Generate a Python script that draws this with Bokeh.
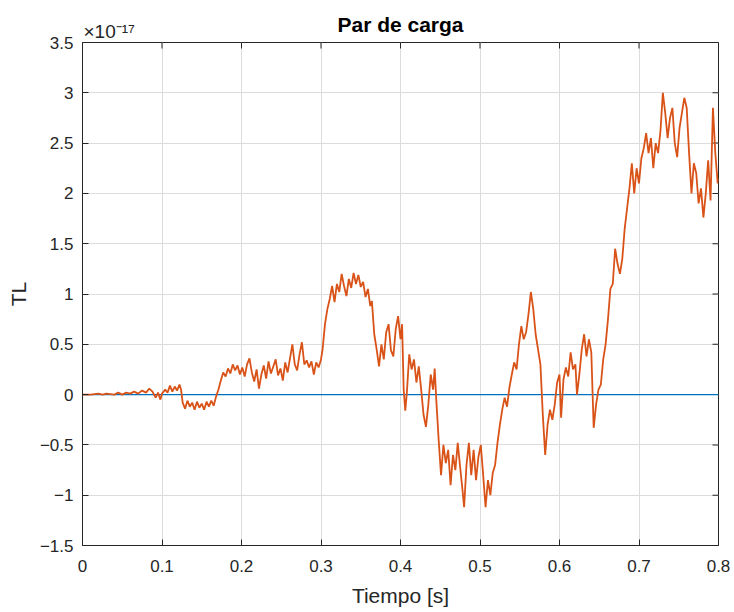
from bokeh.plotting import figure
from bokeh.models import Title, Range1d, FixedTicker
from bokeh.embed import file_html
from bokeh.resources import INLINE

# Time [s]
t = [0.000, 0.010, 0.020, 0.025, 0.030, 0.040, 0.045, 0.050, 0.055, 0.060,
     0.065, 0.070, 0.075, 0.080, 0.084, 0.088, 0.092, 0.095, 0.098, 0.100,
     0.104, 0.107, 0.110, 0.113, 0.116, 0.119, 0.122, 0.124, 0.126, 0.129,
     0.132, 0.135, 0.138, 0.141, 0.144, 0.147, 0.150, 0.153, 0.156, 0.159,
     0.162, 0.165, 0.168, 0.171, 0.174, 0.177, 0.180, 0.183, 0.186, 0.189,
     0.192, 0.195, 0.198, 0.201, 0.204, 0.207, 0.210, 0.213, 0.216, 0.219,
     0.222, 0.225, 0.228, 0.231, 0.234, 0.237, 0.240, 0.243, 0.246, 0.249,
     0.252, 0.255, 0.258, 0.261, 0.264, 0.267, 0.270, 0.273, 0.276, 0.279,
     0.282, 0.285, 0.288, 0.291, 0.294, 0.297, 0.300, 0.302, 0.305, 0.308,
     0.311, 0.314, 0.317, 0.320, 0.323, 0.326, 0.329, 0.332, 0.335, 0.338,
     0.341, 0.344, 0.347, 0.350, 0.353, 0.356, 0.359, 0.362, 0.364, 0.367,
     0.370, 0.373, 0.376, 0.379, 0.382, 0.385, 0.388, 0.391, 0.394, 0.397,
     0.400, 0.402, 0.404, 0.406, 0.408, 0.411, 0.414, 0.417, 0.420, 0.423,
     0.426, 0.429, 0.432, 0.435, 0.438, 0.441, 0.443, 0.445, 0.448, 0.451,
     0.454, 0.457, 0.460, 0.463, 0.466, 0.469, 0.472, 0.475, 0.478, 0.480,
     0.483, 0.486, 0.489, 0.492, 0.495, 0.498, 0.501, 0.504, 0.507, 0.510,
     0.513, 0.516, 0.519, 0.522, 0.525, 0.528, 0.531, 0.534, 0.537, 0.540,
     0.543, 0.546, 0.549, 0.552, 0.555, 0.558, 0.561, 0.564, 0.567, 0.570,
     0.573, 0.576, 0.579, 0.582, 0.585, 0.588, 0.591, 0.594, 0.597, 0.600,
     0.602, 0.605, 0.608, 0.611, 0.614, 0.617, 0.620, 0.622, 0.625, 0.628,
     0.631, 0.634, 0.637, 0.640, 0.643, 0.646, 0.649, 0.652, 0.655, 0.658,
     0.661, 0.664, 0.667, 0.670, 0.673, 0.676, 0.679, 0.682, 0.685, 0.688,
     0.691, 0.694, 0.697, 0.700, 0.703, 0.706, 0.709, 0.712, 0.715, 0.718,
     0.721, 0.724, 0.727, 0.730, 0.733, 0.736, 0.739, 0.742, 0.745, 0.748,
     0.751, 0.754, 0.757, 0.760, 0.763, 0.766, 0.769, 0.772, 0.775, 0.778,
     0.781, 0.784, 0.787, 0.790, 0.793, 0.796, 0.799, 0.800]

# Load torque TL, in units of 1e-17
tl = [0.00, 0.00, 0.01, 0.00, 0.01, 0.00, 0.02, 0.00, 0.02, 0.01,
      0.03, 0.01, 0.04, 0.02, 0.06, 0.03, -0.03, 0.02, -0.05, 0.01,
      0.05, 0.02, 0.09, 0.03, 0.08, 0.04, 0.10, 0.05, -0.08, -0.14,
      -0.06, -0.12, -0.08, -0.15, -0.07, -0.13, -0.09, -0.15, -0.07, -0.12,
      -0.06, -0.11, -0.02, 0.05, 0.14, 0.22, 0.18, 0.26, 0.21, 0.30,
      0.24, 0.29, 0.20, 0.27, 0.18, 0.30, 0.36, 0.22, 0.13, 0.25,
      0.06, 0.20, 0.29, 0.16, 0.33, 0.21, 0.28, 0.35, 0.19, 0.26,
      0.14, 0.32, 0.22, 0.36, 0.50, 0.30, 0.24, 0.40, 0.52, 0.30,
      0.34, 0.27, 0.33, 0.20, 0.32, 0.27, 0.35, 0.45, 0.70, 0.85,
      0.95, 1.08, 0.92, 1.10, 1.02, 1.20, 1.08, 0.98, 1.15, 1.06,
      1.21, 1.10, 1.19, 1.07, 1.12, 0.97, 1.05, 0.88, 0.93, 0.60,
      0.45, 0.28, 0.50, 0.35, 0.62, 0.70, 0.44, 0.38, 0.65, 0.78,
      0.55, 0.70, 0.05, -0.16, 0.02, 0.40, 0.25, 0.35, 0.12, 0.28,
      0.05, -0.20, -0.32, -0.10, 0.20, 0.05, 0.26, -0.05, -0.45, -0.80,
      -0.50, -0.68, -0.55, -0.90, -0.60, -0.75, -0.48, -0.72, -0.95, -1.12,
      -0.70, -0.48, -0.80, -0.55, -0.85, -0.62, -0.50, -0.80, -1.12, -0.85,
      -1.00, -0.78, -0.70, -0.48, -0.30, -0.15, -0.03, -0.12, 0.07, 0.20,
      0.32, 0.25, 0.50, 0.68, 0.55, 0.62, 0.80, 1.02, 0.85, 0.60,
      0.45, 0.30, -0.20, -0.60, -0.30, -0.15, -0.25, -0.10, 0.12, 0.20,
      -0.23, 0.15, 0.27, 0.18, 0.42, 0.25, 0.30, 0.00, 0.20, 0.45,
      0.60, 0.38, 0.55, 0.42, -0.33, -0.10, 0.05, 0.10, 0.35, 0.50,
      0.75, 1.05, 1.10, 1.45, 1.30, 1.20, 1.35, 1.65, 1.85, 2.05,
      2.30, 2.00, 2.25, 2.10, 2.35, 2.45, 2.60, 2.40, 2.55, 2.25,
      2.50, 2.40, 2.62, 3.00, 2.80, 2.55, 2.75, 2.85, 2.50, 2.36,
      2.65, 2.80, 2.95, 2.85, 2.40, 2.00, 2.30, 2.20, 1.90, 2.05,
      1.76, 2.00, 2.33, 1.93, 2.85, 2.40, 2.10, 2.15]

# Reference signal (zero)
t_ref = [0.0, 0.8]
tl_ref = [0.0, 0.0]

x_ticks = [0, 0.1, 0.2, 0.3, 0.4, 0.5, 0.6, 0.7, 0.8]
y_ticks = [-1.5, -1, -0.5, 0, 0.5, 1, 1.5, 2, 2.5, 3, 3.5]
X0, X1 = 0.0, 0.8
Y0, Y1 = -1.5, 3.5

FONT = "Liberation Sans"
TXT = "#262626"

p = figure(width=734, height=612, output_backend="svg", toolbar_location=None,
           x_range=Range1d(X0, X1), y_range=Range1d(Y0, Y1),
           min_border_left=82, min_border_right=16, min_border_top=42,
           min_border_bottom=67)
p.background_fill_color = "white"
p.border_fill_color = "white"
p.outline_line_color = TXT
p.outline_line_width = 1

# exponent multiplier, just above the top-left corner of the box
mult = Title(text="×10⁻¹⁷", align="left", vertical_align="bottom",
             standoff=2, offset=1, text_font=FONT, text_font_size="19px",
             text_font_style="normal", text_color=TXT)
p.add_layout(mult, "above")

p.title.text = "Par de carga"
p.title.align = "center"
p.title.vertical_align = "bottom"
p.title.text_font = FONT
p.title.text_font_size = "21px"
p.title.text_font_style = "bold"
p.title.text_color = "black"
p.title.standoff = -37

for ax in p.xaxis + p.yaxis:
    ax.major_label_text_font = FONT
    ax.major_label_text_font_size = "17px"
    ax.major_label_text_color = TXT
    ax.axis_line_color = TXT
    ax.major_tick_line_color = TXT
    ax.major_tick_in = 6
    ax.major_tick_out = 0
    ax.minor_tick_line_color = None
    ax.axis_label_text_font = FONT
    ax.axis_label_text_font_size = "21px"
    ax.axis_label_text_font_style = "normal"
    ax.axis_label_text_color = TXT

p.xaxis.ticker = FixedTicker(ticks=x_ticks)
p.yaxis.ticker = FixedTicker(ticks=y_ticks)
p.xaxis.axis_label = "Tiempo [s]"
p.yaxis.axis_label = "TL"
p.xaxis.major_label_standoff = 14
p.yaxis.major_label_standoff = 9
p.xaxis.axis_label_standoff = 9
p.yaxis.axis_label_standoff = 7

p.xgrid.ticker = FixedTicker(ticks=x_ticks)
p.ygrid.ticker = FixedTicker(ticks=y_ticks)
p.grid.grid_line_color = "#dcdcdc"
p.grid.grid_line_width = 1

# inward ticks on the top and right edges of the box
p.rect(x=x_ticks, y=[Y1] * len(x_ticks), width=1, height=12,
       width_units="screen", height_units="screen",
       fill_color=TXT, line_color=None)
p.rect(x=[X1] * len(y_ticks), y=y_ticks, width=12, height=1,
       width_units="screen", height_units="screen",
       fill_color=TXT, line_color=None)

p.line(t_ref, tl_ref, line_color="#0072BD", line_width=1.2)
p.line(t, tl, line_color="#D95319", line_width=1.8)

open("out.html", "w").write(file_html(p, INLINE))
